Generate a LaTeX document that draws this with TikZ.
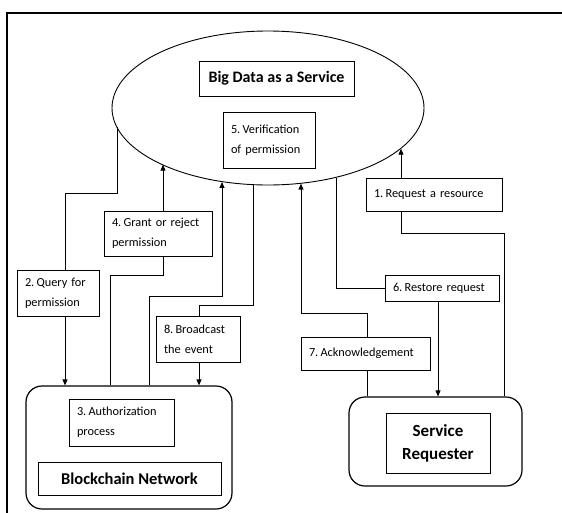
\documentclass[tikz,border=0pt]{standalone}
\usepackage{fontspec}
\setmainfont{Carlito}
\usetikzlibrary{arrows.meta,shapes.geometric}
\newcommand{\nsp}{\hspace{0.18em}}
\begin{document}
\begin{tikzpicture}[x=1pt,y=-1pt,
 lbl/.style={draw, line width=0.8pt, inner xsep=8pt, inner ysep=0pt, align=left, font=\fontsize{12.3}{20}\selectfont},
 ttl/.style={draw, line width=0.8pt, align=center, inner sep=0pt, font=\bfseries\fontsize{16.5}{23}\selectfont},
 rbox/.style={draw, line width=1.2pt, rounded corners=16pt, inner sep=0pt},
 conn/.style={line width=0.8pt},
 arr/.style={conn, -{Triangle[length=6pt,width=5pt]}}]
\useasboundingbox (0,0) rectangle (562,512);
\draw[line width=2.2pt] (7,520) -- (7,13) -- (570,13);

% main shapes
\node[draw, ellipse, minimum width=312pt, minimum height=154pt, inner sep=0pt, line width=0.9pt] (bdaas) at (268,108) {};
\node[rbox, minimum width=206pt, minimum height=123pt] (BC) at (129,447.5) {};
\node[rbox, minimum width=173pt, minimum height=89pt] (SR) at (435.5,441.5) {};

% titles
\node[ttl, font=\bfseries\fontsize{16}{20}\selectfont, minimum width=155pt, minimum height=35pt] (bdt) at (276.5,78.5) {Big Data as a Service};
\node[ttl, minimum width=183pt, minimum height=33pt] (bct) at (129.5,478.5) {Blockchain Network};
\node[ttl, font=\bfseries\fontsize{17}{23}\selectfont, minimum width=104pt, minimum height=60pt] (srt) at (438,443) {Service\\Requester};

% labels
\node[lbl, text width=76pt, minimum height=56pt] (b5) at (269,140) {5.\nsp Verification\\of permission};
\node[lbl, text width=120pt, minimum height=33pt] (b1) at (434,194.5) {1.\nsp Request a resource};
\node[lbl, text width=92pt, minimum height=45pt] (b4) at (158,233.5) {4.\nsp Grant or reject\\permission};
\node[lbl, text width=66pt, minimum height=46pt] (b2) at (58,293) {2.\nsp Query for\\permission};
\node[lbl, text width=68pt, minimum height=46pt] (b8) at (198,339) {8.\nsp Broadcast\\the event};
\node[lbl, text width=113pt, minimum height=33pt] (b7) at (365.5,353.5) {7.\nsp Acknowledgement};
\node[lbl, text width=98pt, minimum height=26pt] (b6) at (442,288) {6.\nsp Restore request};
\node[lbl, text width=89pt, minimum height=47pt] (b3) at (121.5,422.5) {3.\nsp Authorization\\process};

% 1
\coordinate (p1a) at (504,233);
\coordinate (p1b) at (401,233);
\draw[conn] (p1a |- SR.north) -- (p1a) -- (p1b) -- (p1b |- b1.south);
\draw[arr] (p1b |- b1.north) -- (p1b |- bdaas.343);
% 2
\coordinate (q2a) at (117,193);
\coordinate (q2b) at (65,193);
\draw[conn] (q2a |- bdaas.187) -- (q2a) -- (q2b) -- (q2b |- b2.north);
\draw[arr] (q2b |- b2.south) -- (q2b |- BC.north);
% 4
\coordinate (q4a) at (110,275);
\coordinate (q4b) at (163,275);
\draw[conn] (q4a |- BC.north) -- (q4a) -- (q4b) -- (q4b |- b4.south);
\draw[arr] (q4b |- b4.north) -- (q4b |- bdaas.208);
% unlabeled
\coordinate (q9a) at (149,296);
\coordinate (q9b) at (222,296);
\draw[arr] (q9a |- BC.north) -- (q9a) -- (q9b) -- (q9b |- bdaas.238);
% 8
\coordinate (q8a) at (253,305);
\coordinate (q8b) at (199,305);
\draw[conn] (q8a |- bdaas.259) -- (q8a) -- (q8b) -- (q8b |- b8.north);
\draw[arr] (q8b |- b8.south) -- (q8b |- BC.north);
% 7
\coordinate (q7a) at (367,313);
\coordinate (q7b) at (301,313);
\draw[conn] (q7a |- SR.north) -- (q7a |- b7.south);
\draw[arr] (q7a |- b7.north) -- (q7a) -- (q7b) -- (q7b |- bdaas.294);
% 6
\coordinate (q6) at (336,288);
\coordinate (q6b) at (438,288);
\draw[conn] (q6 |- bdaas.314) -- (q6) -- (b6.west);
\draw[arr] (q6b |- b6.south) -- (q6b |- SR.north);
\end{tikzpicture}
\end{document}
